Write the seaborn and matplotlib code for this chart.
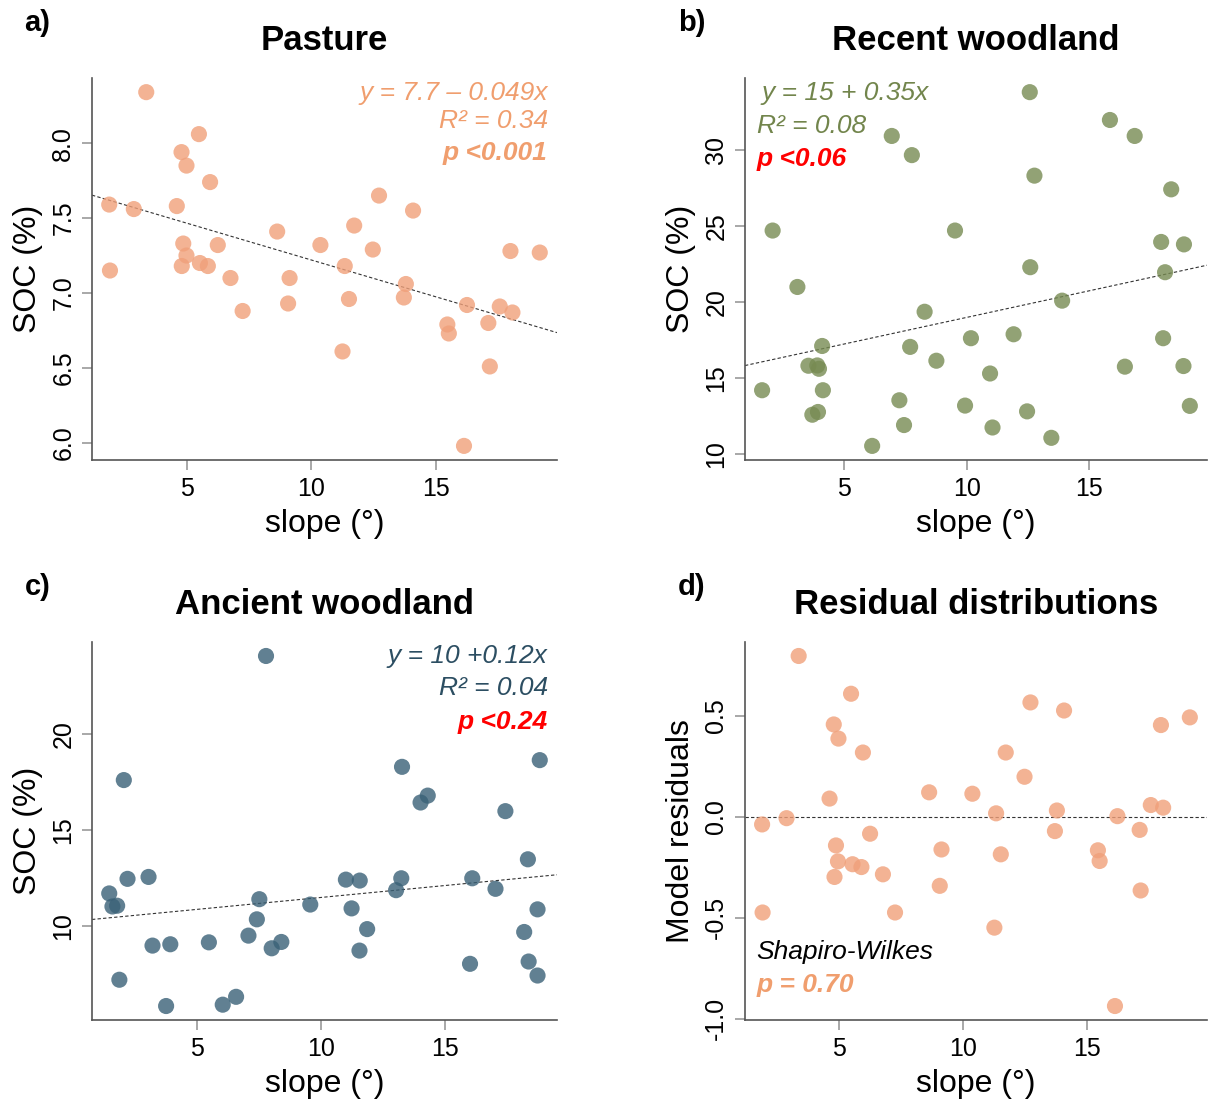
import numpy as np
import pandas as pd
import matplotlib
matplotlib.use("Agg")
import matplotlib.pyplot as plt
import seaborn as sns

# ---- data ----
pasture_slope = [1.86, 1.89, 2.85, 3.35, 4.58, 4.77, 4.97, 5.47, 4.84, 4.97,
                 4.78, 5.51, 5.83, 5.92, 6.23, 6.74, 7.23, 8.62, 9.12, 9.06,
                 10.36, 11.34, 11.25, 11.51, 11.72, 12.47, 12.72, 13.80, 13.72, 14.09,
                 15.47, 15.53, 16.14, 16.26, 17.12, 17.18, 17.58, 18.01, 18.09, 19.19]
pasture_soc = [7.59, 7.15, 7.56, 8.34, 7.58, 7.94, 7.85, 8.06, 7.33, 7.25,
               7.18, 7.20, 7.18, 7.74, 7.32, 7.10, 6.88, 7.41, 7.10, 6.93,
               7.32, 7.18, 6.61, 6.96, 7.45, 7.29, 7.65, 7.06, 6.97, 7.55,
               6.79, 6.73, 5.98, 6.92, 6.80, 6.51, 6.91, 7.28, 6.87, 7.27]

recent_slope = [1.65, 2.08, 3.09, 3.54, 3.90, 3.97, 4.10, 4.13, 3.70, 3.93,
                6.14, 6.94, 7.25, 7.44, 7.69, 7.76, 8.28, 8.76, 9.52, 9.93,
                10.17, 10.95, 11.05, 11.91, 12.46, 12.57, 12.59, 12.76, 13.45, 13.89,
                15.84, 16.45, 16.85, 17.93, 18.01, 18.09, 18.34, 18.84, 18.86, 19.10]
recent_soc = [14.21, 24.71, 21.00, 15.82, 15.84, 15.62, 17.12, 14.21, 12.60, 12.78,
              10.55, 30.93, 13.55, 11.92, 17.06, 29.67, 19.37, 16.15, 24.71, 13.20,
              17.63, 15.31, 11.76, 17.89, 12.82, 33.81, 22.30, 28.32, 11.08, 20.10,
              31.98, 15.76, 30.93, 23.96, 17.63, 21.97, 27.42, 15.80, 23.80, 13.18]

ancient_slope = [1.44, 1.57, 1.76, 1.85, 2.03, 2.18, 3.03, 3.19, 3.74, 3.91,
                 5.47, 6.03, 6.57, 7.07, 7.41, 7.51, 7.78, 8.01, 8.40, 9.57,
                 11.01, 11.24, 11.56, 11.57, 11.87, 13.04, 13.25, 13.28, 14.03, 14.32,
                 16.03, 16.12, 17.06, 17.46, 18.22, 18.37, 18.40, 18.76, 18.76, 18.85]
ancient_soc = [11.70, 11.02, 11.06, 7.20, 17.61, 12.46, 12.56, 8.98, 5.83, 9.05,
               9.15, 5.90, 6.31, 9.50, 10.35, 11.40, 24.08, 8.84, 9.17, 11.12,
               12.42, 10.92, 8.72, 12.37, 9.84, 11.87, 12.49, 18.30, 16.44, 16.80,
               8.03, 12.49, 11.94, 15.99, 9.69, 13.48, 8.15, 7.42, 10.87, 18.65]

resid_slope = [1.87, 1.89, 2.86, 3.35, 4.60, 4.77, 4.96, 5.47, 4.86, 4.94,
               4.80, 5.53, 5.89, 5.95, 6.24, 6.76, 7.25, 8.63, 9.13, 9.06,
               10.38, 11.34, 11.27, 11.53, 11.73, 12.49, 12.73, 13.80, 13.72, 14.09,
               15.46, 15.53, 16.15, 16.25, 17.15, 17.19, 17.60, 18.01, 18.10, 19.18]
resid_value = [-0.039, -0.475, -0.008, 0.795, 0.089, 0.456, 0.386, 0.608, -0.143, -0.222,
               -0.299, -0.236, -0.250, 0.317, -0.085, -0.286, -0.475, 0.120, -0.163, -0.343,
               0.113, 0.016, -0.550, -0.187, 0.317, 0.197, 0.565, 0.030, -0.072, 0.525,
               -0.167, -0.220, -0.938, 0.002, -0.066, -0.366, 0.057, 0.453, 0.044, 0.491]

# fitted lines (intercept, slope) as drawn
fit_pasture = (7.71, -0.049)
fit_recent = (15.5, 0.35)
fit_ancient = (10.25, 0.124)

# ---- style ----
sns.set_style("ticks")
plt.rcParams["font.family"] = ["Liberation Sans", "DejaVu Sans"]
plt.rcParams["text.color"] = "black"
plt.rcParams["axes.labelcolor"] = "black"
plt.rcParams["xtick.labelcolor"] = "black"
plt.rcParams["ytick.labelcolor"] = "black"

C_PAST_PT, C_PAST_TX = "#F0A07A", "#F09E6E"
C_REC_PT, C_REC_TX = "#778B52", "#72854C"
C_ANC_PT, C_ANC_TX = "#3A6177", "#2C4E62"
RED = "#FF0000"
ANN = 19

fig = plt.figure(figsize=(12.09, 11.08), dpi=100)
axes = {
    "a": fig.add_axes([0.0761, 0.5848, 0.3846, 0.3448]),
    "b": fig.add_axes([0.6162, 0.5848, 0.3821, 0.3448]),
    "c": fig.add_axes([0.0761, 0.0794, 0.3846, 0.3412]),
    "d": fig.add_axes([0.6162, 0.0794, 0.3821, 0.3412]),
}


def r_limits(vals):
    lo, hi = min(vals), max(vals)
    pad = (hi - lo) * 0.04
    return lo - pad, hi + pad


def style_ax(ax, x, y, yticks, title, tag, ylabel):
    ax.set_xlim(*r_limits(x))
    ax.set_ylim(*r_limits(y))
    ax.set_xticks([5, 10, 15])
    ax.set_yticks(yticks)
    for s in ["top", "right"]:
        ax.spines[s].set_visible(False)
    for s in ["left", "bottom"]:
        ax.spines[s].set_color("#555555")
        ax.spines[s].set_linewidth(1.2)
    ax.tick_params(length=7, width=1.2, color="#999999", labelsize=18, pad=5)
    plt.setp(ax.get_yticklabels(), rotation=90, va="center")
    ax.set_xlabel("slope (°)", fontsize=23, labelpad=6)
    ax.set_ylabel(ylabel, fontsize=23, labelpad=6)
    ax.set_title(title, fontsize=25, fontweight="bold", pad=20)
    ax.text(-0.145, 1.145, tag, transform=ax.transAxes, fontsize=21,
            fontweight="bold", ha="left", va="center")


def panel(ax, x, y, color, fit):
    df = pd.DataFrame({"slope": x, "soc": y})
    sns.scatterplot(data=df, x="slope", y="soc", ax=ax, color=color,
                    s=135, alpha=0.8, edgecolor="none", zorder=3)
    ax.axline((0, fit[0]), slope=fit[1], color="#333333", lw=0.8,
              ls=(0, (3, 2)), zorder=2)


# a) Pasture
ax = axes["a"]
panel(ax, pasture_slope, pasture_soc, C_PAST_PT, fit_pasture)
style_ax(ax, pasture_slope, pasture_soc, [6.0, 6.5, 7.0, 7.5, 8.0], "Pasture", "a)", "SOC (%)")
ax.yaxis.set_major_formatter(matplotlib.ticker.FormatStrFormatter("%.1f"))
ax.text(0.98, 0.962, "y = 7.7 – 0.049x", transform=ax.transAxes, ha="right", va="center",
        fontsize=ANN, style="italic", color=C_PAST_TX)
ax.text(0.98, 0.888, "R² = 0.34", transform=ax.transAxes, ha="right", va="center",
        fontsize=ANN, style="italic", color=C_PAST_TX)
ax.text(0.98, 0.803, "p <0.001", transform=ax.transAxes, ha="right", va="center",
        fontsize=ANN, style="italic", fontweight="bold", color=C_PAST_TX)

# b) Recent woodland
ax = axes["b"]
panel(ax, recent_slope, recent_soc, C_REC_PT, fit_recent)
style_ax(ax, recent_slope, recent_soc, [10, 15, 20, 25, 30], "Recent woodland", "b)", "SOC (%)")
ax.text(0.035, 0.962, "y = 15 + 0.35x", transform=ax.transAxes, ha="left", va="center",
        fontsize=ANN, style="italic", color=C_REC_TX)
ax.text(0.025, 0.875, "R² = 0.08", transform=ax.transAxes, ha="left", va="center",
        fontsize=ANN, style="italic", color=C_REC_TX)
ax.text(0.025, 0.787, "p <0.06", transform=ax.transAxes, ha="left", va="center",
        fontsize=ANN, style="italic", fontweight="bold", color=RED)

# c) Ancient woodland
ax = axes["c"]
panel(ax, ancient_slope, ancient_soc, C_ANC_PT, fit_ancient)
style_ax(ax, ancient_slope, ancient_soc, [10, 15, 20], "Ancient woodland", "c)", "SOC (%)")
ax.text(0.98, 0.962, "y = 10 +0.12x", transform=ax.transAxes, ha="right", va="center",
        fontsize=ANN, style="italic", color=C_ANC_TX)
ax.text(0.98, 0.877, "R² = 0.04", transform=ax.transAxes, ha="right", va="center",
        fontsize=ANN, style="italic", color=C_ANC_TX)
ax.text(0.98, 0.787, "p <0.24", transform=ax.transAxes, ha="right", va="center",
        fontsize=ANN, style="italic", fontweight="bold", color=RED)

# d) Residual distributions
ax = axes["d"]
df = pd.DataFrame({"slope": resid_slope, "resid": resid_value})
sns.scatterplot(data=df, x="slope", y="resid", ax=ax, color=C_PAST_PT,
                s=135, alpha=0.8, edgecolor="none", zorder=3)
ax.axhline(0, color="#333333", lw=0.8, ls=(0, (3, 2)), zorder=2)
style_ax(ax, resid_slope, resid_value, [-1.0, -0.5, 0.0, 0.5], "Residual distributions", "d)",
         "Model residuals")
ax.yaxis.set_major_formatter(matplotlib.ticker.FormatStrFormatter("%.1f"))
ax.text(0.025, 0.18, "Shapiro-Wilkes", transform=ax.transAxes, ha="left", va="center",
        fontsize=ANN, style="italic", color="black")
ax.text(0.025, 0.093, "p = 0.70", transform=ax.transAxes, ha="left", va="center",
        fontsize=ANN, style="italic", fontweight="bold", color=C_PAST_TX)

fig.savefig("out.png", dpi=100)
